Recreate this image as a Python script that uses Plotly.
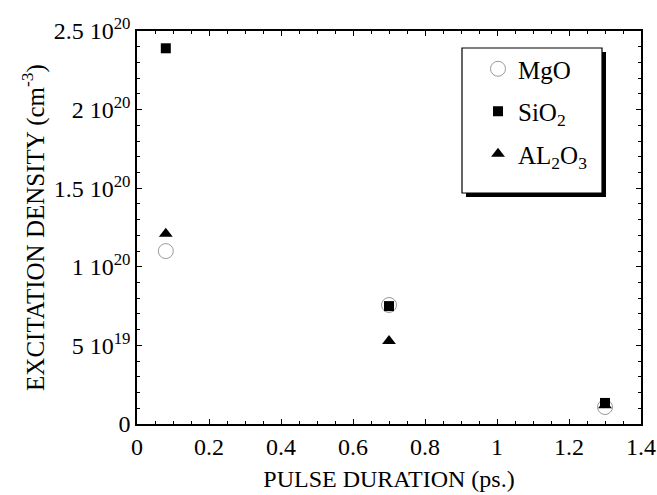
import plotly.graph_objects as go

pulse = [0.08, 0.7, 1.3]
mgo = [1.10e20, 0.757e20, 0.108e20]
sio2 = [2.39e20, 0.75e20, 0.134e20]
al2o3 = [1.21e20, 0.528e20, 0.12e20]

y_tickvals = [0, 5e19, 1e20, 1.5e20, 2e20, 2.5e20]
y_ticktext = ["0", "5 10<sup>19</sup>", "1 10<sup>20</sup>", "1.5 10<sup>20</sup>",
              "2 10<sup>20</sup>", "2.5 10<sup>20</sup>"]
x_tickvals = [0, 0.2, 0.4, 0.6, 0.8, 1.0, 1.2, 1.4]
x_ticktext = ["0", "0.2", "0.4", "0.6", "0.8", "1", "1.2", "1.4"]

FONT = "Liberation Serif"

fig = go.Figure()
fig.add_trace(go.Scatter(x=pulse, y=mgo, mode="markers", name="MgO", legendgroup="a",
                         marker=dict(symbol="circle-open", size=15, color="#9a9a9a",
                                     line=dict(width=1, color="#9a9a9a"))))
fig.add_trace(go.Scatter(x=pulse, y=sio2, mode="markers", name="SiO<sub>2</sub>", legendgroup="b",
                         marker=dict(symbol="square", size=10, color="black")))
fig.add_trace(go.Scatter(x=pulse, y=al2o3, mode="markers", name="AL<sub>2</sub>O<sub>3</sub>", legendgroup="c",
                         marker=dict(symbol="triangle-up", size=12, color="black")))

L, R, T, B = 137, 16, 31, 71
W, H = 657, 495
pw, ph = W - L - R, H - T - B

def px2x(px):
    return (px - L) / pw

def px2y(py):
    return (H - B - py) / ph

# legend box with drop shadow
bx0, bx1, by0, by1 = 462, 602, 48, 193
fig.add_shape(type="rect", xref="paper", yref="paper", layer="above",
              x0=px2x(bx0 + 4), x1=px2x(bx1 + 4), y0=px2y(by1 + 4), y1=px2y(by0 + 4),
              fillcolor="black", line=dict(width=0))
fig.add_shape(type="rect", xref="paper", yref="paper", layer="above",
              x0=px2x(bx0), x1=px2x(bx1), y0=px2y(by1), y1=px2y(by0),
              fillcolor="white", line=dict(width=1.2, color="black"))

axis_common = dict(showgrid=False, zeroline=False, showline=True, linecolor="black", linewidth=1.5,
                   mirror="allticks", ticks="inside", ticklen=5, tickwidth=1, tickcolor="black",
                   tickfont=dict(family=FONT, size=24, color="black"))

fig.update_xaxes(range=[0, 1.4], tickmode="array", tickvals=x_tickvals, ticktext=x_ticktext,
                 minor=dict(dtick=0.05, ticks="inside", ticklen=3, tickcolor="black"),
                 title=dict(text="PULSE DURATION (ps.)", font=dict(family=FONT, size=24, color="black"),
                            standoff=12),
                 **axis_common)
fig.update_yaxes(range=[0, 2.5e20], tickmode="array", tickvals=y_tickvals, ticktext=y_ticktext,
                 minor=dict(dtick=1e19, ticks="inside", ticklen=3, tickcolor="black"),
                 title=dict(text="EXCITATION DENSITY (cm<sup>-3</sup>)",
                            font=dict(family=FONT, size=25, color="black"), standoff=2),
                 **axis_common)

fig.update_layout(
    width=W, height=H,
    margin=dict(l=L, r=R, t=T, b=B, autoexpand=False),
    paper_bgcolor="white", plot_bgcolor="white",
    font=dict(family=FONT, size=24, color="black"),
    legend=dict(x=px2x(478), y=px2y(46), xanchor="left", yanchor="top",
                bgcolor="rgba(0,0,0,0)", borderwidth=0,
                font=dict(family=FONT, size=25, color="black"),
                traceorder="grouped", tracegroupgap=7),
)

fig.write_html("out.html")
